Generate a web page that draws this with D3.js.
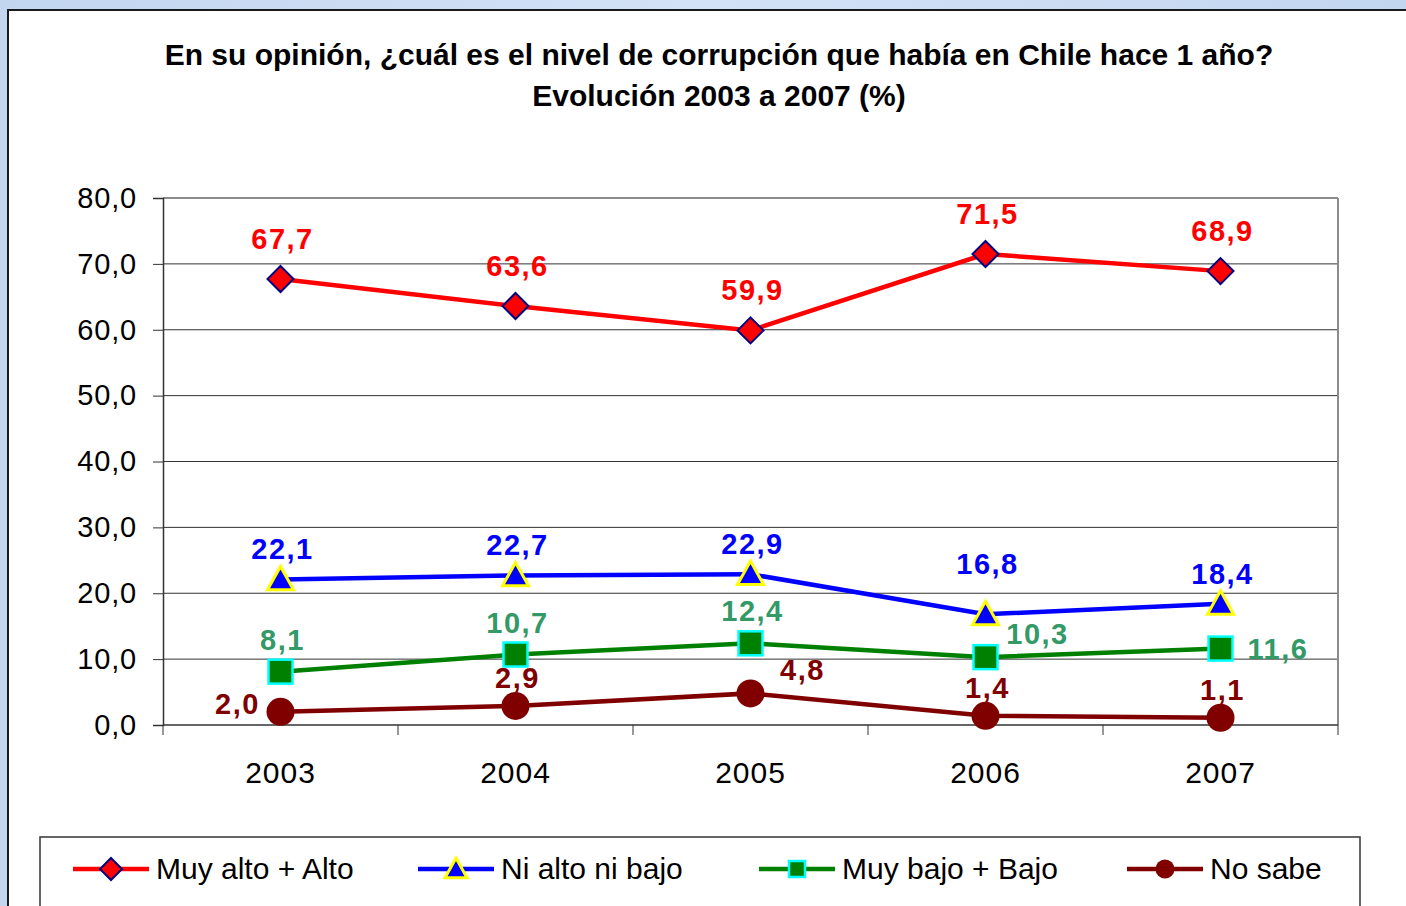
<!DOCTYPE html>
<html>
<head>
<meta charset="utf-8">
<title>Corrupción Chile 2003-2007</title>
<script src="https://cdn.jsdelivr.net/npm/d3@7"></script>
<style>
  body { margin: 0; background: #c9dbf3; }
  svg { display: block; font-family: Arial, "Liberation Sans", sans-serif; }
</style>
</head>
<body>
<svg id="lienzo" width="1406" height="906"></svg>
<script>
// datos
const years = ["2003", "2004", "2005", "2006", "2007"];
const muyAlto = [67.7, 63.6, 59.9, 71.5, 68.9];
const niAltoNiBajo = [22.1, 22.7, 22.9, 16.8, 18.4];
const muyBajo = [8.1, 10.7, 12.4, 10.3, 11.6];
const noSabe = [2.0, 2.9, 4.8, 1.4, 1.1];
const yTicks = [0, 10, 20, 30, 40, 50, 60, 70, 80];
const seriesNames = ["Muy alto + Alto", "Ni alto ni bajo", "Muy bajo + Bajo", "No sabe"];

const fmt = v => v.toFixed(1).replace(".", ",");

// estilo de cada serie (t = arriba, r = derecha, l = izquierda, tr = arriba derecha)
const series = [
  { name: seriesNames[0], values: muyAlto, line: "#ff0000", label: "#ff0000", marker: "diamond", fill: "#ff0000", stroke: "#000080",
    dy: -30, pos: ["t", "t", "t", "t", "t"] },
  { name: seriesNames[1], values: niAltoNiBajo, line: "#0000ff", label: "#0000ff", marker: "triangle", fill: "#0000ff", stroke: "#ffff00",
    dy: -20, pos: ["t", "t", "t", "t2", "t"] },
  { name: seriesNames[2], values: muyBajo, line: "#008000", label: "#339966", marker: "square", fill: "#008000", stroke: "#00ffff",
    dy: -22, pos: ["t", "t", "t", "tr", "r"] },
  { name: seriesNames[3], values: noSabe, line: "#800000", label: "#800000", marker: "circle", fill: "#800000", stroke: "#800000",
    dy: -18, pos: ["l", "t", "tr", "t", "t"] }
];

const svg = d3.select("#lienzo");
const W = 1406, H = 906;

// fondo
const defs = svg.append("defs");
const grad = defs.append("linearGradient").attr("id", "bg").attr("x1", 0).attr("y1", 0).attr("x2", 1).attr("y2", 0);
grad.append("stop").attr("offset", "0%").attr("stop-color", "#c3d6f0");
grad.append("stop").attr("offset", "50%").attr("stop-color", "#d3e2f6");
grad.append("stop").attr("offset", "100%").attr("stop-color", "#c3d6f0");
svg.append("rect").attr("width", W).attr("height", H).attr("fill", "url(#bg)");

// area del grafico
svg.append("rect").attr("x", 8).attr("y", 10).attr("width", W + 10).attr("height", H + 10)
  .attr("fill", "#fff").attr("stroke", "#1a1a1a").attr("stroke-width", 2);

// titulo
const title = svg.append("text").attr("text-anchor", "middle").attr("font-weight", "bold")
  .attr("font-size", 30).attr("fill", "#000");
title.append("tspan").attr("x", 719).attr("y", 65).text("En su opinión, ¿cuál es el nivel de corrupción que había en Chile hace 1 año?");
title.append("tspan").attr("x", 719).attr("y", 106).text("Evolución 2003 a 2007 (%)");

const plot = { left: 163, right: 1338, top: 198, bottom: 725 };

const x = d3.scaleBand().domain(years).range([plot.left, plot.right]);
const y = d3.scaleLinear().domain([0, 80]).range([plot.bottom, plot.top]);
const cx = d => x(d) + x.bandwidth() / 2;

// lineas de cuadricula
svg.append("g").selectAll("line").data(yTicks.filter(t => t > 0 && t < 80)).join("line")
  .attr("x1", plot.left).attr("x2", plot.right)
  .attr("y1", d => y(d)).attr("y2", d => y(d))
  .attr("stroke", "#333").attr("stroke-width", 1);

// borde del area de trazado
svg.append("line").attr("x1", plot.left).attr("x2", plot.right).attr("y1", y(80)).attr("y2", y(80))
  .attr("stroke", "#8c8c8c").attr("stroke-width", 2);
svg.append("line").attr("x1", plot.right).attr("x2", plot.right).attr("y1", y(80)).attr("y2", plot.bottom)
  .attr("stroke", "#8c8c8c").attr("stroke-width", 2);

// eje y
const yAxis = d3.axisLeft(y).tickValues(yTicks).tickSize(10).tickPadding(16).tickFormat(fmt);
const gy = svg.append("g").attr("transform", `translate(${plot.left},0)`).call(yAxis);
gy.select(".domain").attr("stroke", "#333").attr("stroke-width", 1.5);
gy.selectAll(".tick line").attr("stroke", "#333");
gy.selectAll(".tick text").attr("font-size", 29).attr("fill", "#000").attr("letter-spacing", 0.8)
  .attr("font-family", "Arial, 'Liberation Sans', sans-serif");

// eje x con marcas entre categorias
const gx = svg.append("g").attr("transform", `translate(0,${plot.bottom})`);
gx.append("line").attr("x1", plot.left).attr("x2", plot.right).attr("stroke", "#333").attr("stroke-width", 1.5);
const edges = years.map(d => x(d)).concat([plot.right]);
gx.selectAll("line.tk").data(edges).join("line").attr("class", "tk")
  .attr("x1", d => d).attr("x2", d => d).attr("y1", 0).attr("y2", 10).attr("stroke", "#333");
gx.selectAll("text").data(years).join("text")
  .attr("x", d => cx(d)).attr("y", 58).attr("text-anchor", "middle")
  .attr("font-size", 30).attr("letter-spacing", 1).text(d => d);

// simbolos
function drawMarker(g, type, fill, stroke, s) {
  if (type === "diamond") {
    g.append("path").attr("d", `M0,${-s}L${s},0L0,${s}L${-s},0Z`)
      .attr("fill", fill).attr("stroke", stroke).attr("stroke-width", 2);
  } else if (type === "triangle") {
    g.append("path").attr("d", `M0,${-s}L${s},${s * 0.8}L${-s},${s * 0.8}Z`)
      .attr("fill", fill).attr("stroke", stroke).attr("stroke-width", 3);
  } else if (type === "square") {
    g.append("rect").attr("x", -s).attr("y", -s).attr("width", 2 * s).attr("height", 2 * s)
      .attr("fill", fill).attr("stroke", stroke).attr("stroke-width", 2.5);
  } else {
    g.append("circle").attr("r", s).attr("fill", fill);
  }
}
const markerSize = { diamond: 13, triangle: 13, square: 12, circle: 14 };
const legendSize = { diamond: 11, triangle: 11, square: 8, circle: 9.5 };

const line = d3.line().x((d, i) => cx(years[i])).y(d => y(d));

series.forEach(s => {
  const g = svg.append("g");
  g.append("path").datum(s.values).attr("d", line)
    .attr("fill", "none").attr("stroke", s.line).attr("stroke-width", 4.5);
  s.values.forEach((v, i) => {
    const m = g.append("g").attr("transform", `translate(${cx(years[i])},${y(v)})`);
    drawMarker(m, s.marker, s.fill, s.stroke, markerSize[s.marker]);
  });
  g.selectAll("text").data(s.values).join("text")
    .attr("x", (d, i) => {
      const p = s.pos[i];
      if (p === "r") return cx(years[i]) + 27;
      if (p === "tr") return cx(years[i]) + 52;
      if (p === "l") return cx(years[i]) - 43;
      return cx(years[i]) + 2;
    })
    .attr("y", (d, i) => {
      const p = s.pos[i];
      if (p === "r") return y(d) + 10;
      if (p === "tr") return y(d) - 13;
      if (p === "l") return y(d) + 2;
      if (p === "t2") return y(d) - 40;
      return y(d) + s.dy;
    })
    .attr("text-anchor", (d, i) => s.pos[i] === "r" ? "start" : "middle")
    .attr("font-size", 29).attr("font-weight", "bold").attr("letter-spacing", 1.5)
    .attr("fill", s.label).text(d => fmt(d));
});

// leyenda
svg.append("rect").attr("x", 40).attr("y", 837).attr("width", 1320).attr("height", 100)
  .attr("fill", "#fff").attr("stroke", "#333").attr("stroke-width", 1.5);
const legendX = [73, 418, 759, 1127];
series.forEach((s, i) => {
  const g = svg.append("g").attr("transform", `translate(${legendX[i]},869)`);
  g.append("line").attr("x1", 0).attr("x2", 76).attr("stroke", s.line).attr("stroke-width", 4.5);
  const m = g.append("g").attr("transform", "translate(38,0)");
  drawMarker(m, s.marker, s.fill, s.stroke, legendSize[s.marker]);
  g.append("text").attr("x", 83).attr("y", 10).attr("font-size", 30)
    .attr("fill", "#000").text(s.name);
});
</script>
</body>
</html>
